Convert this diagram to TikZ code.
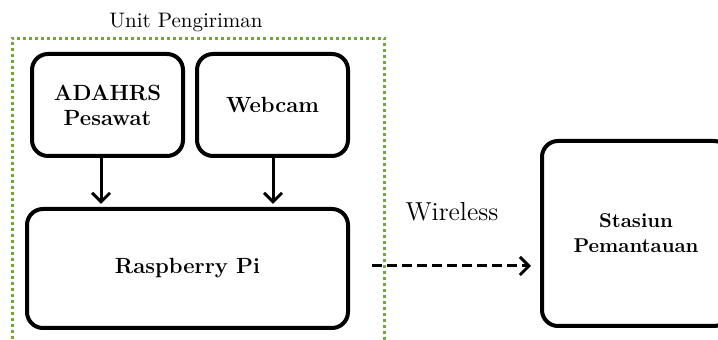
\documentclass[tikz,border=0pt]{standalone}
\usetikzlibrary{arrows.meta,calc}
\definecolor{unitgreen}{RGB}{112,168,60}
\tikzset{
  blk/.style={draw=black, line width=2pt, rounded corners=8pt, fill=white,
    align=center, font=\fontsize{11}{12.5}\selectfont\bfseries, inner sep=0pt},
  conn/.style={line width=1.5pt, -{Straight Barb[length=4.5pt,width=9pt,line width=1.5pt]}},
  unitbox/.style={draw=unitgreen, line width=1.5pt, dash pattern=on 1.5pt off 1.5pt,
    minimum width=186pt, minimum height=160pt, inner sep=0pt},
  lbl/.style={font=\fontsize{10.5}{12}\selectfont, inner sep=0pt}
}
\begin{document}
\begin{tikzpicture}[x=0.5pt,y=-0.5pt]
\clip (0,0) rectangle (718,340);
\fill[white] (0,0) rectangle (718,340);
% unit container (extends below the picture)
\node[unitbox, anchor=north west] (unit) at (11,37) {};
\node[lbl] (unitlbl) at (186,23) {Unit Pengiriman};
% blocks
\node[blk, minimum width=75.5pt, minimum height=51pt] (ada) at (107.5,105) {ADAHRS\\Pesawat};
\node[blk, minimum width=75.5pt, minimum height=51pt] (cam) at (272.5,105) {Webcam};
\node[blk, minimum width=160.5pt, minimum height=59.5pt] (rpi) at (187.5,268.5) {Raspberry Pi};
\node[blk, minimum width=94pt, minimum height=92.5pt, font=\fontsize{10}{12.5}\selectfont\bfseries] (st) at (636,233.5) {Stasiun\\Pemantauan};
% connectors
\draw[conn, shorten >=1.5pt] ([xshift=-3.25pt]ada.south) -- ([xshift=-3.25pt]ada.south |- rpi.north);
\draw[conn, shorten >=1.5pt] ([xshift=0.25pt]cam.south) -- ([xshift=0.25pt]cam.south |- rpi.north);
\coordinate (ws) at (372,266);
\draw[conn, dash pattern=on 5pt off 2.5pt] (ws) -- ([xshift=-4.5pt]ws -| st.west);
\node[lbl, font=\fontsize{13}{14}\selectfont] (wl) at (452,212) {Wireless};
\end{tikzpicture}
\end{document}
